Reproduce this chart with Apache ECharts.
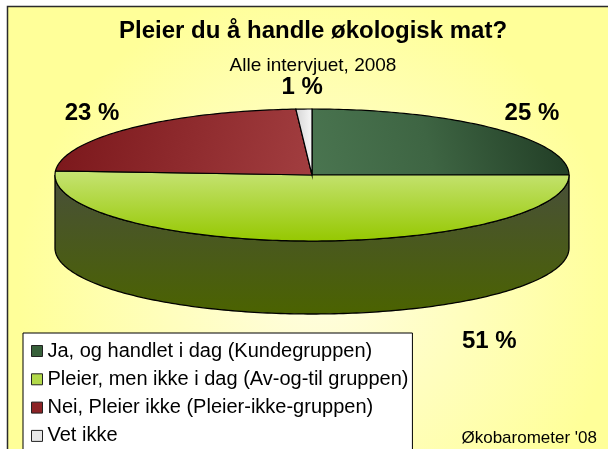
<!DOCTYPE html>
<html>
<head>
<meta charset="utf-8">
<script src="https://cdn.jsdelivr.net/npm/echarts@6/dist/echarts.min.js"></script>
<style>
html,body{margin:0;padding:0;background:#fff;}
#chart{width:608px;height:449px;}
</style>
</head>
<body>
<div id="chart"></div>
<script>
var categories = ['Ja, og handlet i dag (Kundegruppen)', 'Pleier, men ikke i dag (Av-og-til gruppen)', 'Nei, Pleier ikke (Pleier-ikke-gruppen)', 'Vet ikke'];
var shares = [25, 51, 23, 1];
var sliceColors = ['#37603a', '#b2d94a', '#8c2326', '#e8e8e8'];

var FONT = '"Liberation Sans", Arial, sans-serif';
// flat 3d pie geometry
var CX = 312, CY = 175, RX = 257, RY = 66, DEPTH = 73;

function pt(deg, dy){
	var a = deg * Math.PI / 180;
	return [CX + RX * Math.sin(a), CY - RY * Math.cos(a) + (dy || 0)];
}
function arc(a0, a1, dy){
	var pts = [];
	var n = Math.max(2, Math.ceil(Math.abs(a1 - a0)));
	for (var i = 0; i <= n; i++){
		pts.push(pt(a0 + (a1 - a0) * i / n, dy));
	}
	return pts;
}

var faceFill = [
	new echarts.graphic.LinearGradient(0, 1, 1, 0, [{offset:0, color:'#4a7550'}, {offset:0.45, color:'#3e6543'}, {offset:1, color:'#1f3a23'}]),
	new echarts.graphic.LinearGradient(0, 0, 0, 1, [{offset:0, color:'#c6e374'}, {offset:1, color:'#95c800'}]),
	new echarts.graphic.LinearGradient(0, 0, 1, 1, [{offset:0, color:'#7a161a'}, {offset:1, color:'#a23e40'}]),
	new echarts.graphic.LinearGradient(0, 0, 1, 0, [{offset:0, color:'#d4d4d4'}, {offset:1, color:'#f8f8f8'}])
];
var wallFill = new echarts.graphic.LinearGradient(0, 0, 0, 1, [{offset:0, color:'#484f3a'}, {offset:1, color:'#4b6300'}]);

function renderSlice(params, api){
	var i = params.seriesIndex;
	var total = 0, before = 0;
	for (var k = 0; k < shares.length; k++){
		total += shares[k];
		if (k < i) before += shares[k];
	}
	var a0 = before / total * 360, a1 = (before + shares[i]) / total * 360;
	var children = [];
	// side wall, only the front half shows
	var s0 = Math.max(a0, 90), s1 = Math.min(a1, 270);
	if (s1 > s0){
		children.push({
			type:'polygon',
			shape:{points: arc(s0, s1, 0).concat(arc(s1, s0, DEPTH))},
			style:{fill: wallFill, stroke:'#000', lineWidth:1.3}
		});
	}
	children.push({
		type:'polygon',
		shape:{points: [[CX, CY]].concat(arc(a0, a1, 0))},
		style:{fill: faceFill[i], stroke:'#000', lineWidth:1.2}
	});
	var mid = (a0 + a1) / 2 * Math.PI / 180;
	var lx = CX + (RX + 54) * Math.sin(mid), ly = CY - (RY + 23) * Math.cos(mid) + 1;
	if (Math.cos(mid) < -0.5){
		// front label sits below the wall, right of centre
		lx = CX + RX * 0.69; ly = CY + RY + DEPTH + 27;
	}
	children.push({
		type:'text',
		style:{
			text: Math.round(shares[i] / total * 100) + ' %',
			x: lx, y: ly, align:'center', verticalAlign:'middle',
			fontFamily: FONT, fontSize:24, fontWeight:'bold', fill:'#000'
		}
	});
	return {type:'group', children:children};
}

var chart = echarts.init(document.getElementById('chart'));
var option = {
	animation: false,
	title: [{
		text:'Pleier du å handle økologisk mat?',
		left:313, top:19, textAlign:'center', padding:0,
		textStyle:{fontFamily:FONT, fontSize:24, fontWeight:'bold', color:'#000'}
	}, {
		text:'Alle intervjuet, 2008',
		left:313, top:56, textAlign:'center', padding:0,
		textStyle:{fontFamily:FONT, fontSize:19, fontWeight:'normal', color:'#000'}
	}, {
		text:"Økobarometer '08",
		right:11, top:430, padding:0,
		textStyle:{fontFamily:FONT, fontSize:17, fontWeight:'normal', color:'#000'}
	}],
	graphic: [{
		type:'rect', z:-1, silent:true,
		shape:{x:7.5, y:6.5, width:620, height:460},
		style:{
			fill: new echarts.graphic.RadialGradient(0.5, 0.6, 0.65, [{offset:0, color:'#fffde2'}, {offset:1, color:'#ffff99'}]),
			stroke:'#2b2b2b', lineWidth:1.5
		}
	}],
	legend: {
		orient:'vertical', left:23, top:333, height:160,
		data: categories, icon:'rect', itemWidth:11, itemHeight:11, itemGap:8.3,
		selectedMode:false,
		backgroundColor:'#fff', borderColor:'#000', borderWidth:1,
		padding:[8, 4, 40, 8],
		itemStyle:{borderColor:'#222', borderWidth:1},
		textStyle:{fontFamily:FONT, fontSize:20, lineHeight:20, color:'#000'}
	},
	series: categories.map(function(name, i){
		return {
			type:'custom', name:name, coordinateSystem:'none', silent:true,
			itemStyle:{color: sliceColors[i]},
			data:[shares[i]],
			renderItem: renderSlice
		};
	})
};
chart.setOption(option);
</script>
</body>
</html>
